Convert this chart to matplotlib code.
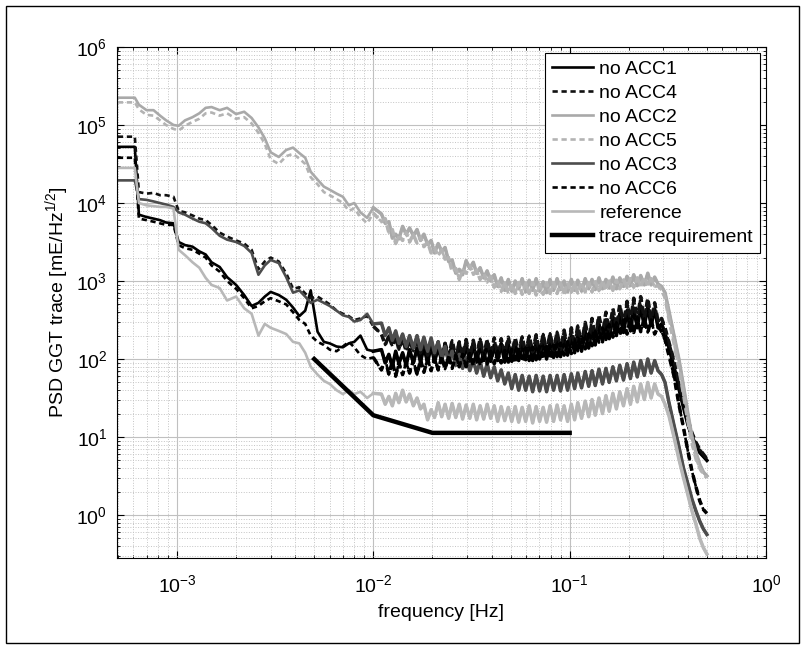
import numpy as np
import matplotlib
matplotlib.use("Agg")
import matplotlib.pyplot as plt
from matplotlib.patches import Rectangle
from matplotlib.ticker import FixedLocator, NullFormatter

plt.rcParams['font.family'] = ['Liberation Sans', 'DejaVu Sans']
plt.rcParams['mathtext.default'] = 'regular'

# ---------------- data (frequency in Hz, PSD values stored as log10) ----------------
freq_low = [5.0e-4, 6.1e-4, 6.4e-4, 7.0e-4, 7.6e-4, 8.2e-4, 8.8e-4, 9.6e-4, 1.02e-3, 1.1e-3,
            1.2e-3, 1.3e-3, 1.4e-3, 1.5e-3, 1.65e-3, 1.8e-3, 2.0e-3, 2.2e-3, 2.4e-3, 2.6e-3,
            2.8e-3, 3.0e-3, 3.3e-3, 3.6e-3, 3.9e-3, 4.2e-3, 4.5e-3, 4.8e-3, 5.2e-3, 5.6e-3,
            6.0e-3, 6.5e-3, 7.0e-3, 7.5e-3, 8.0e-3, 8.6e-3, 9.3e-3, 1.0e-2]
freq_high = [0.0110, 0.0115, 0.0120, 0.0125, 0.0130, 0.0135, 0.0141, 0.0147, 0.0153, 0.0160,
             0.0167, 0.0174, 0.0181, 0.0189, 0.0197, 0.0205, 0.0214, 0.0223, 0.0232, 0.0242,
             0.0252, 0.0263, 0.0274, 0.0285, 0.0297, 0.0310, 0.0323, 0.0336, 0.0350, 0.0365,
             0.0380, 0.0396, 0.0413, 0.0430, 0.0448, 0.0467, 0.0487, 0.0507, 0.0528, 0.0550,
             0.0573, 0.0597, 0.0622, 0.0648, 0.0675, 0.0703, 0.0733, 0.0763, 0.0795, 0.0828,
             0.0863, 0.0899, 0.0937, 0.0976, 0.102, 0.106, 0.110, 0.115, 0.120, 0.125,
             0.130, 0.135, 0.141, 0.147, 0.153, 0.159, 0.166, 0.173, 0.180, 0.188,
             0.196, 0.204, 0.212, 0.221, 0.230, 0.240, 0.250, 0.260, 0.271, 0.282,
             0.294, 0.306, 0.32, 0.34, 0.36, 0.38, 0.40, 0.42, 0.44, 0.46,
             0.48, 0.50]
freq = freq_low + freq_high

acc1_low = [4.72, 4.72, 3.85, 3.82, 3.80, 3.78, 3.75, 3.74, 3.50, 3.46,
            3.44, 3.38, 3.34, 3.24, 3.18, 3.05, 2.95, 2.82, 2.68, 2.72,
            2.80, 2.86, 2.82, 2.76, 2.66, 2.55, 2.62, 2.88, 2.35, 2.22,
            2.20, 2.16, 2.15, 2.20, 2.22, 2.30, 2.12, 2.10]
acc1_high = [2.12, 1.95, 2.06, 1.90, 2.10, 1.94, 2.08, 1.92, 2.12, 1.95,
             2.14, 1.96, 2.16, 1.95, 2.18, 1.96, 2.15, 1.97, 2.20, 1.96,
             2.17, 1.98, 2.20, 1.95, 2.18, 1.97, 2.20, 1.96, 2.19, 1.98,
             2.21, 1.97, 2.18, 1.98, 2.20, 1.96, 2.19, 1.97, 2.20, 1.98,
             2.21, 1.99, 2.22, 1.98, 2.22, 2.00, 2.24, 2.00, 2.23, 2.02,
             2.26, 2.03, 2.27, 2.05, 2.30, 2.08, 2.33, 2.10, 2.36, 2.14,
             2.40, 2.18, 2.45, 2.22, 2.50, 2.26, 2.54, 2.30, 2.58, 2.34,
             2.62, 2.36, 2.65, 2.40, 2.68, 2.42, 2.67, 2.43, 2.64, 2.40,
             2.45, 2.33, 2.15, 1.90, 1.62, 1.38, 1.16, 1.00, 0.90, 0.80,
             0.75, 0.70]

acc4_low = [4.85, 4.85, 4.14, 4.12, 4.13, 4.10, 4.10, 4.08, 3.90, 3.88,
            3.84, 3.80, 3.78, 3.72, 3.62, 3.57, 3.52, 3.48, 3.40, 3.15,
            3.25, 3.30, 3.25, 3.10, 2.90, 2.92, 2.84, 2.78, 2.80, 2.75,
            2.70, 2.62, 2.58, 2.55, 2.50, 2.52, 2.55, 2.42]
acc4_high = [2.32, 2.18, 2.30, 2.16, 2.28, 2.12, 2.26, 2.10, 2.24, 2.10,
             2.26, 2.08, 2.22, 2.05, 2.20, 2.04, 2.22, 2.02, 2.20, 2.03,
             2.24, 2.02, 2.22, 2.04, 2.25, 2.03, 2.24, 2.05, 2.26, 2.04,
             2.25, 2.06, 2.27, 2.05, 2.26, 2.07, 2.28, 2.06, 2.27, 2.08,
             2.29, 2.07, 2.30, 2.09, 2.31, 2.08, 2.32, 2.10, 2.33, 2.11,
             2.35, 2.12, 2.37, 2.14, 2.40, 2.17, 2.43, 2.20, 2.47, 2.24,
             2.52, 2.28, 2.56, 2.32, 2.60, 2.36, 2.65, 2.40, 2.70, 2.44,
             2.74, 2.47, 2.78, 2.50, 2.80, 2.52, 2.78, 2.50, 2.72, 2.48,
             2.52, 2.40, 2.22, 1.98, 1.70, 1.45, 1.22, 1.05, 0.93, 0.84,
             0.78, 0.72]

acc2_low = [5.35, 5.35, 5.26, 5.19, 5.19, 5.12, 5.06, 5.00, 4.99, 5.06,
            5.10, 5.15, 5.22, 5.23, 5.19, 5.22, 5.14, 5.17, 5.09, 4.97,
            4.83, 4.65, 4.59, 4.68, 4.71, 4.64, 4.58, 4.40, 4.30, 4.21,
            4.17, 4.12, 4.08, 3.97, 4.00, 3.88, 3.81, 3.94]
acc2_high = [3.86, 3.74, 3.76, 3.55, 3.60, 3.54, 3.70, 3.60, 3.68, 3.58,
             3.66, 3.52, 3.60, 3.47, 3.52, 3.36, 3.48, 3.38, 3.43, 3.25,
             3.27, 3.10, 3.15, 3.08, 3.26, 3.16, 3.24, 3.10, 3.17, 3.04,
             3.13, 3.00, 3.08, 2.93, 3.04, 2.88, 3.02, 2.87, 3.00, 2.90,
             3.03, 2.86, 3.01, 2.88, 3.03, 2.87, 2.99, 2.85, 3.02, 2.88,
             3.03, 2.89, 3.00, 2.86, 3.02, 2.88, 3.01, 2.87, 3.03, 2.90,
             3.02, 2.89, 3.04, 2.90, 3.02, 2.91, 3.05, 2.90, 3.04, 2.93,
             3.06, 2.94, 3.08, 2.94, 3.07, 2.95, 3.10, 2.95, 3.05, 2.96,
             2.93, 2.85, 2.62, 2.30, 2.00, 1.65, 1.30, 1.00, 0.80, 0.65,
             0.55, 0.50]

acc5_low = [5.29, 5.29, 5.20, 5.13, 5.12, 5.06, 5.00, 4.95, 4.93, 4.99,
            5.04, 5.08, 5.15, 5.16, 5.12, 5.15, 5.08, 5.10, 5.02, 4.90,
            4.76, 4.56, 4.50, 4.60, 4.63, 4.57, 4.50, 4.33, 4.24, 4.14,
            4.10, 4.05, 4.00, 3.90, 3.93, 3.82, 3.74, 3.87]
acc5_high = [3.76, 3.80, 3.62, 3.66, 3.48, 3.58, 3.52, 3.62, 3.50, 3.60,
             3.48, 3.56, 3.44, 3.50, 3.36, 3.42, 3.32, 3.40, 3.28, 3.30,
             3.12, 3.16, 3.02, 3.14, 3.10, 3.20, 3.08, 3.14, 3.02, 3.10,
             2.98, 3.06, 2.92, 3.00, 2.86, 2.98, 2.84, 2.96, 2.84, 2.98,
             2.83, 2.97, 2.84, 2.98, 2.82, 2.96, 2.83, 2.97, 2.84, 2.98,
             2.84, 2.97, 2.83, 2.98, 2.85, 2.97, 2.84, 2.98, 2.86, 2.98,
             2.86, 2.99, 2.87, 3.00, 2.88, 3.00, 2.88, 3.01, 2.90, 3.02,
             2.91, 3.03, 2.92, 3.04, 2.93, 3.05, 2.94, 3.03, 2.93, 2.94,
             2.88, 2.79, 2.52, 2.20, 1.88, 1.55, 1.20, 0.92, 0.72, 0.60,
             0.52, 0.48]

acc3_low = [4.29, 4.29, 4.05, 4.04, 4.02, 4.00, 3.98, 3.95, 3.88, 3.85,
            3.80, 3.76, 3.74, 3.68, 3.58, 3.53, 3.50, 3.45, 3.36, 3.08,
            3.20, 3.27, 3.23, 3.05, 2.85, 2.88, 2.80, 2.72, 2.76, 2.72,
            2.68, 2.62, 2.56, 2.54, 2.48, 2.50, 2.58, 2.45]
acc3_high = [2.46, 2.30, 2.40, 2.24, 2.36, 2.20, 2.32, 2.16, 2.30, 2.14,
             2.30, 2.12, 2.28, 2.10, 2.27, 2.08, 2.22, 2.02, 2.16, 1.96,
             2.10, 1.92, 2.06, 1.88, 2.02, 1.85, 1.99, 1.82, 1.97, 1.78,
             1.94, 1.76, 1.90, 1.72, 1.86, 1.68, 1.82, 1.62, 1.80, 1.60,
             1.79, 1.60, 1.78, 1.58, 1.79, 1.59, 1.78, 1.58, 1.79, 1.60,
             1.79, 1.59, 1.80, 1.60, 1.81, 1.62, 1.82, 1.63, 1.84, 1.65,
             1.85, 1.66, 1.87, 1.68, 1.88, 1.70, 1.90, 1.72, 1.92, 1.73,
             1.94, 1.75, 1.96, 1.77, 1.98, 1.79, 2.00, 1.82, 1.98, 1.85,
             1.80, 1.70, 1.45, 1.15, 0.88, 0.60, 0.40, 0.20, 0.05, -0.08,
             -0.18, -0.25]

acc6_low = [4.58, 4.58, 3.80, 3.78, 3.76, 3.74, 3.72, 3.72, 3.46, 3.42,
            3.40, 3.35, 3.30, 3.20, 3.12, 3.00, 2.90, 2.78, 2.65, 2.68,
            2.74, 2.78, 2.74, 2.70, 2.60, 2.50, 2.45, 2.30, 2.22, 2.18,
            2.12, 2.10, 2.16, 2.22, 2.15, 2.05, 2.00, 2.02]
acc6_high = [1.86, 2.00, 1.80, 1.97, 1.78, 1.95, 1.80, 1.96, 1.82, 1.98,
             1.80, 1.99, 1.83, 2.00, 1.85, 2.02, 1.86, 2.03, 1.87, 2.04,
             1.88, 2.05, 1.90, 2.06, 1.90, 2.07, 1.92, 2.08, 1.92, 2.08,
             1.93, 2.10, 1.94, 2.10, 1.95, 2.11, 1.96, 2.12, 1.96, 2.13,
             1.97, 2.14, 1.98, 2.15, 1.99, 2.16, 2.00, 2.17, 2.01, 2.18,
             2.03, 2.20, 2.05, 2.22, 2.07, 2.25, 2.10, 2.28, 2.13, 2.32,
             2.17, 2.36, 2.21, 2.40, 2.25, 2.44, 2.28, 2.47, 2.30, 2.50,
             2.32, 2.52, 2.34, 2.53, 2.35, 2.52, 2.34, 2.50, 2.32, 2.42,
             2.35, 2.25, 2.05, 1.78, 1.42, 1.12, 0.82, 0.56, 0.36, 0.18,
             0.07, 0.02]

ref_low = [4.45, 4.45, 4.00, 3.97, 3.96, 3.95, 3.95, 3.93, 3.40, 3.33,
           3.24, 3.17, 3.04, 2.95, 2.91, 2.75, 2.80, 2.65, 2.58, 2.30,
           2.45, 2.40, 2.36, 2.32, 2.22, 2.20, 2.08, 1.90, 1.80, 1.72,
           1.68, 1.60, 1.55, 1.60, 1.55, 1.58, 1.50, 1.56]
ref_high = [1.55, 1.42, 1.52, 1.40, 1.56, 1.44, 1.60, 1.45, 1.55, 1.40,
            1.50, 1.36, 1.42, 1.22, 1.35, 1.25, 1.44, 1.26, 1.42, 1.24,
            1.43, 1.25, 1.42, 1.23, 1.41, 1.24, 1.42, 1.22, 1.40, 1.23,
            1.42, 1.24, 1.40, 1.20, 1.39, 1.21, 1.38, 1.20, 1.39, 1.19,
            1.38, 1.20, 1.40, 1.18, 1.39, 1.20, 1.38, 1.19, 1.40, 1.20,
            1.41, 1.22, 1.40, 1.20, 1.42, 1.22, 1.44, 1.24, 1.46, 1.26,
            1.48, 1.28, 1.50, 1.30, 1.53, 1.33, 1.56, 1.36, 1.58, 1.40,
            1.62, 1.42, 1.65, 1.45, 1.68, 1.48, 1.70, 1.50, 1.68, 1.55,
            1.52, 1.42, 1.28, 1.00, 0.72, 0.48, 0.26, 0.05, -0.12, -0.30,
            -0.42, -0.50]

req_freq = [5e-3, 1e-2, 2e-2, 0.1]
req_vals = [100, 19, 11.3, 11.3]

labels = ['no ACC1', 'no ACC4', 'no ACC2', 'no ACC5', 'no ACC3', 'no ACC6',
          'reference', 'trace requirement']

x_major = [1e-3, 1e-2, 1e-1, 1e0]
y_major = [1e0, 1e1, 1e2, 1e3, 1e4, 1e5, 1e6]

# ---------------- figure ----------------
W, H = 805, 649
fig = plt.figure(figsize=(W / 100, H / 100), dpi=100)
fig.patch.set_facecolor('white')
fig.patches.append(Rectangle((6 / W, 6 / H), (W - 12) / W, (H - 12) / H,
                             transform=fig.transFigure, fill=False,
                             edgecolor='black', linewidth=1.0))

ax = fig.add_axes([117 / W, (H - 558) / H, (766 - 117) / W, (558 - 47) / H])

dash = (0, (2.0, 1.4))
lw = 1.9
series = [
    (acc1_low, acc1_high, dict(color='#000000', ls='-')),
    (acc4_low, acc4_high, dict(color='#111111', ls=dash)),
    (acc2_low, acc2_high, dict(color='#a9a9a9', ls='-')),
    (acc5_low, acc5_high, dict(color='#b3b3b3', ls=dash)),
    (acc3_low, acc3_high, dict(color='#4d4d4d', ls='-')),
    (acc6_low, acc6_high, dict(color='#000000', ls=dash)),
    (ref_low, ref_high, dict(color='#b8b8b8', ls='-')),
]
f = np.array(freq)
fh = np.array(freq_low[-1:] + freq_high)
for (lo, hi, style), lab in zip(series, labels):
    ax.plot(f, 10 ** np.array(lo + hi), label=lab, lw=lw, **style)
    # the noisy high-frequency part is drawn a little heavier, as in the source
    ax.plot(fh, 10 ** np.array(lo[-1:] + hi), lw=2.5, **style)
ax.plot(req_freq, req_vals, color='black', lw=3.2, label=labels[-1])

ax.set_xscale('log')
ax.set_yscale('log')
ax.set_xlim(4.95e-4, 1)
ax.set_ylim(0.281, 1e6)

x_minor = [m * d for d in (1e-4, 1e-3, 1e-2, 1e-1) for m in range(2, 10)
           if 4.95e-4 <= m * d <= 1]
y_minor = [m * d for d in (0.1, 1, 1e1, 1e2, 1e3, 1e4, 1e5) for m in range(2, 10)
           if 0.281 <= m * d <= 1e6]
ax.xaxis.set_major_locator(FixedLocator(x_major))
ax.yaxis.set_major_locator(FixedLocator(y_major))
ax.xaxis.set_minor_locator(FixedLocator(x_minor))
ax.yaxis.set_minor_locator(FixedLocator(y_minor))
ax.set_xticklabels([r'$10^{%d}$' % int(round(np.log10(v))) for v in x_major])
ax.set_yticklabels([r'$10^{%d}$' % int(round(np.log10(v))) for v in y_major])
ax.xaxis.set_minor_formatter(NullFormatter())
ax.yaxis.set_minor_formatter(NullFormatter())

ax.set_axisbelow(True)
ax.grid(True, which='major', color='#c0c0c0', lw=0.8, ls='-')
ax.grid(True, which='minor', color='#c4c4c4', lw=0.7, ls=':')

ax.tick_params(which='both', direction='in', top=True, right=True,
               labelsize=14, colors='black')
ax.tick_params(which='major', length=5)
ax.tick_params(axis='x', which='major', pad=12)
ax.tick_params(axis='y', which='major', pad=7)
ax.tick_params(which='minor', length=2.5)
for s in ax.spines.values():
    s.set_linewidth(0.8)

ax.set_xlabel('frequency [Hz]', fontsize=14, labelpad=5)
ax.set_ylabel('PSD GGT trace [mE/Hz$^{1/2}$]', fontsize=14, labelpad=4)

leg = ax.legend(loc='upper right', fontsize=14, frameon=True, fancybox=False,
                framealpha=1, edgecolor='black', handlelength=2.15,
                handletextpad=0.3, labelspacing=0.33, borderaxespad=0.33,
                borderpad=0.35)
leg.get_frame().set_linewidth(0.8)

fig.savefig('out.png', dpi=100, facecolor='white')
